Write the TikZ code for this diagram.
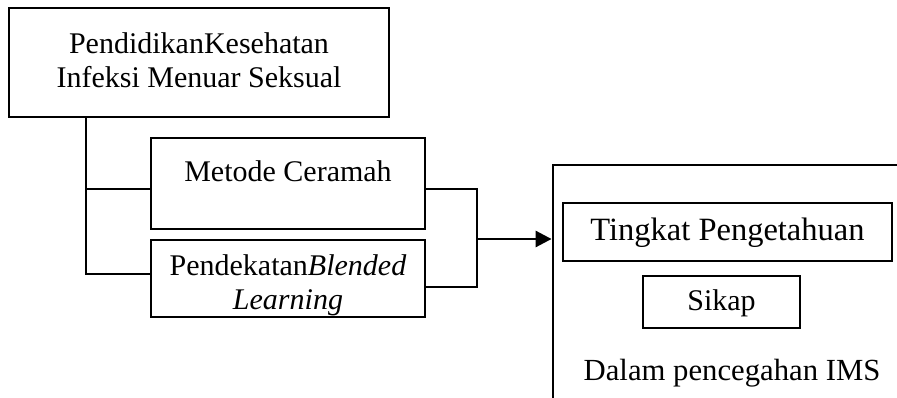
\documentclass[tikz,border=0pt]{standalone}
\usepackage{fontspec}
\setmainfont{Liberation Serif}
\usetikzlibrary{arrows.meta,calc}
\begin{document}
\begin{tikzpicture}[x=1pt,y=-1pt,
  box/.style={draw, line width=2.8pt, rectangle, inner sep=0pt},
  lbl/.style={inner sep=0pt, align=center, font=\fontsize{30}{34}\selectfont},
  conn/.style={line width=2.8pt},
  arr/.style={line width=2.8pt, -{Triangle[length=16pt,width=16pt]}}]
\clip (0,0) rectangle (897,398);
\fill[white] (0,0) rectangle (897,398);
% boxes
\node[box, minimum width=380, minimum height=109] (top) at (199,62.5) {};
\node[box, minimum width=274, minimum height=91] (metode) at (288,183.5) {};
\node[box, minimum width=274, minimum height=77] (blended) at (288,278.5) {};
\node[box, minimum width=447, minimum height=335] (big) at (776.5,332.5) {};
\node[box, minimum width=329, minimum height=58] (tingkat) at (727.5,232) {};
\node[box, minimum width=157, minimum height=52] (sikap) at (721.5,302) {};
% texts
\node[lbl] (ttop) at (199,60) {PendidikanKesehatan\\Infeksi Menuar Seksual};
\node[lbl] (tmetode) at (288,171) {Metode Ceramah};
\node[lbl] (tblended) at (288,285) {Pendekatan\textit{Blended}\\\textit{Learning}};
\node[lbl, font=\fontsize{32.5}{36}\selectfont] (ttingkat) at (727.5,233) {Tingkat Pengetahuan};
\node[lbl] (tsikap) at (721.5,303) {Sikap};
\node[lbl, font=\fontsize{30.7}{36}\selectfont] (tdalam) at (732,373) {Dalam pencegahan IMS};
% connectors
\coordinate (trunk) at (86,117);
\draw[conn] (trunk) |- ([yshift=-5.5pt]metode.west);
\draw[conn] (trunk) |- ([yshift=4.5pt]blended.west);
\coordinate (j) at (477,239);
\draw[conn] ([yshift=-5.5pt]metode.east) -| (j);
\draw[conn] ([yshift=-8.5pt]blended.east) -| (j);
\draw[arr] (j) -- (j -| big.west);
\end{tikzpicture}
\end{document}
